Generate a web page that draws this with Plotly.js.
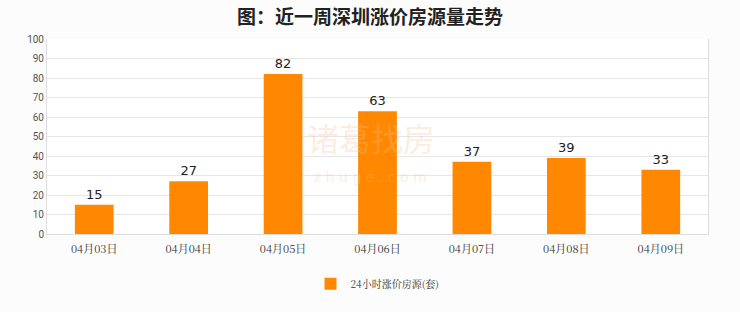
<!DOCTYPE html>
<html><head><meta charset="utf-8">
<script src="https://cdn.plot.ly/plotly-3.0.1.min.js"></script>
<style>html,body{margin:0;padding:0;background:#fcfcfc;}#c{width:740px;height:312px;}</style>
</head><body><div id="c"></div>
<script>
const categories = ["04月03日","04月04日","04月05日","04月06日","04月07日","04月08日","04月09日"];
const values = [15, 27, 82, 63, 37, 39, 33];
const seriesName = "24小时涨价房源(套)";
const yTicks = [0,10,20,30,40,50,60,70,80,90,100];

const trace = {
  type: "bar", x: categories, y: values, name: seriesName,
  marker: {color: "#ff8800"},
  text: values.map(String), textposition: "outside",
  textfont: {family: "DejaVu Sans, sans-serif", size: 13, color: "#222"},
  cliponaxis: false, hoverinfo: "none"
};
const layout = {
  width: 740, height: 312,
  paper_bgcolor: "#fcfcfc", plot_bgcolor: "#ffffff",
  margin: {l: 47, r: 32, t: 39, b: 78},
  title: {text: "图：近一周深圳涨价房源量走势", x: 0.5, xanchor: "center", y: 0.944, yanchor: "middle",
    font: {family: "Noto Sans CJK SC, sans-serif", size: 19, color: "#222", weight: 700}},
  bargap: 0.59,
  showlegend: true,
  legend: {orientation: "h", x: 0.5, xanchor: "center", y: -0.255, yanchor: "middle",
    itemwidth: 30,
    font: {family: "Noto Serif CJK SC, Noto Sans CJK SC, serif", size: 10, color: "#333"}},
  xaxis: {type: "category", showline: true, linecolor: "#ddd", linewidth: 1, ticks: "outside", ticklen: 5, tickcolor: "rgba(0,0,0,0)",
    tickfont: {family: "Noto Serif CJK SC, Noto Sans CJK SC, serif", size: 11, color: "#333"}, showgrid: false, mirror: false},
  yaxis: {range: [0, 100], tickvals: yTicks, showline: true, linecolor: "#ddd", gridcolor: "#e6e6e6", ticks: "",
    tickfont: {family: "Roboto, sans-serif", size: 10, color: "#555"}, zeroline: false, mirror: true},
  annotations: [{text: "诸葛找房", xref: "paper", yref: "paper", x: 0.49, y: 0.5, showarrow: false,
    font: {family: "Noto Sans CJK SC, sans-serif", size: 32, color: "rgba(245,190,150,0.3)"}},
    {text: "z h u g e . c o m", xref: "paper", yref: "paper", x: 0.49, y: 0.24, showarrow: false,
    font: {family: "DejaVu Sans, sans-serif", size: 14, color: "rgba(245,190,150,0.3)"}}]
};
Plotly.newPlot("c", [trace], layout, {displayModeBar: false, staticPlot: true});
</script></body></html>
